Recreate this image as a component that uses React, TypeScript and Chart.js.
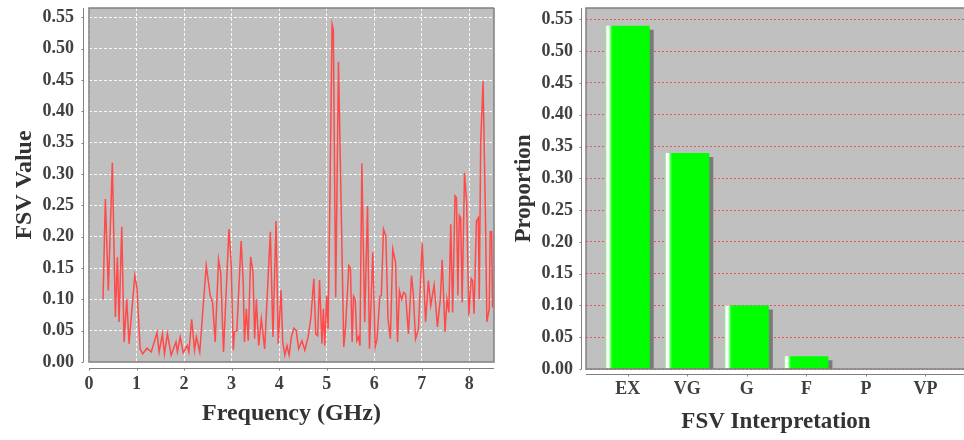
import React, { useEffect, useRef } from 'react';
import { Chart, registerables } from 'chart.js';

Chart.register(...registerables);

// ---------- Data ----------
const freqGHz = [
  0.295, 0.344, 0.407, 0.491, 0.555, 0.597, 0.632, 0.689, 0.738, 0.794, 0.843, 0.963, 1.01, 1.075, 1.13, 1.22, 1.31,
  1.43, 1.475, 1.545, 1.587, 1.65, 1.728, 1.83, 1.86, 1.92, 1.98, 2.065, 2.1, 2.16, 2.22, 2.26, 2.33, 2.466, 2.55,
  2.6, 2.655, 2.725, 2.77, 2.83, 2.944, 2.99, 3.035, 3.06, 3.11, 3.2, 3.245, 3.27, 3.31, 3.35, 3.4, 3.45, 3.485,
  3.52, 3.57, 3.625, 3.695, 3.815, 3.87, 3.934, 3.98, 4.04, 4.075, 4.12, 4.165, 4.21, 4.257, 4.31, 4.36, 4.41,
  4.48, 4.54, 4.61, 4.665, 4.73, 4.77, 4.81, 4.85, 4.9, 4.93, 4.96, 5.0, 5.03, 5.065, 5.114, 5.14, 5.19, 5.248,
  5.36, 5.4, 5.465, 5.5, 5.536, 5.565, 5.6, 5.635, 5.67, 5.7, 5.74, 5.8, 5.86, 5.9, 5.97, 6.02, 6.06, 6.12, 6.15,
  6.195, 6.245, 6.29, 6.34, 6.39, 6.45, 6.49, 6.53, 6.575, 6.62, 6.66, 6.72, 6.785, 6.82, 6.87, 6.93, 7.01, 7.08,
  7.14, 7.19, 7.26, 7.33, 7.39, 7.43, 7.49, 7.53, 7.57, 7.61, 7.65, 7.7, 7.73, 7.76, 7.79, 7.82, 7.85, 7.9, 7.945,
  7.99, 8.04, 8.07, 8.1, 8.15, 8.19, 8.21, 8.24, 8.29, 8.34, 8.37, 8.42, 8.44, 8.47, 8.49,
];
const fsvValues = [
  0.1, 0.26, 0.114, 0.318, 0.072, 0.167, 0.064, 0.216, 0.032, 0.1, 0.029, 0.138, 0.117, 0.021, 0.013, 0.022, 0.016,
  0.047, 0.016, 0.045, 0.013, 0.045, 0.011, 0.032, 0.016, 0.04, 0.015, 0.026, 0.016, 0.068, 0.019, 0.04, 0.016, 0.154, 0.106,
  0.095, 0.032, 0.164, 0.143, 0.016, 0.212, 0.159, 0.019, 0.048, 0.05, 0.193, 0.127, 0.032, 0.085, 0.034, 0.168, 0.143, 0.037,
  0.1, 0.026, 0.069, 0.021, 0.208, 0.04, 0.225, 0.029, 0.115, 0.032, 0.011, 0.026, 0.011, 0.04, 0.054, 0.05, 0.021,
  0.034, 0.019, 0.04, 0.069, 0.133, 0.045, 0.042, 0.131, 0.029, 0.085, 0.026, 0.106, 0.053, 0.244, 0.539, 0.53, 0.103, 0.479,
  0.024, 0.058, 0.154, 0.15, 0.032, 0.105, 0.1, 0.034, 0.04, 0.026, 0.317, 0.064, 0.249, 0.021, 0.175, 0.024, 0.037, 0.105, 0.106,
  0.212, 0.201, 0.069, 0.037, 0.18, 0.159, 0.032, 0.114, 0.1, 0.111, 0.108, 0.045, 0.138, 0.111, 0.037, 0.053, 0.19, 0.064,
  0.13, 0.09, 0.123, 0.056, 0.1, 0.163, 0.048, 0.1, 0.079, 0.22, 0.079, 0.265, 0.262, 0.106, 0.234, 0.23, 0.095, 0.302, 0.254,
  0.074, 0.133, 0.13, 0.077, 0.225, 0.23, 0.1, 0.35, 0.448, 0.233, 0.064, 0.085, 0.208, 0.208, 0.087,
];

const categories = ['EX', 'VG', 'G', 'F', 'P', 'VP'];
const proportions = [0.54, 0.34, 0.1, 0.02, 0, 0];

const FONT = "'Liberation Serif', 'Times New Roman', serif";
const tickFont = { family: FONT, size: 18, weight: 'bold' as const };
const leftTitleFont = { family: FONT, size: 24, weight: 'bold' as const };
const rightTitleFont = { family: FONT, size: 23, weight: 'bold' as const };
const TICK_COLOR = '#404040';
const TITLE_COLOR = '#333333';

function framePlugin(offset: number, drawRight: boolean) {
  return {
    id: 'frame',
    beforeDraw(chart: any) {
      const { ctx, chartArea: a } = chart;
      ctx.save();
      ctx.fillStyle = '#c0c0c0';
      ctx.fillRect(a.left, a.top, a.right - a.left, a.bottom - a.top);
      ctx.restore();
    },
    afterDraw(chart: any) {
      const { ctx, chartArea: a } = chart;
      const xs = chart.scales.x;
      const ys = chart.scales.y;
      ctx.save();
      ctx.strokeStyle = '#808080';
      ctx.lineWidth = 1.5;
      ctx.beginPath();
      ctx.moveTo(a.right, a.top);
      ctx.lineTo(a.left, a.top);
      ctx.lineTo(a.left, a.bottom);
      ctx.lineTo(a.right, a.bottom);
      if (drawRight) ctx.lineTo(a.right, a.top);
      ctx.stroke();
      const ax = Math.round(a.left - offset) + 0.5;
      const ay = Math.round(a.bottom + offset) + 0.5;
      ctx.lineWidth = 1;
      ctx.strokeStyle = '#808080';
      ctx.beginPath();
      ctx.moveTo(ax, a.top);
      ctx.lineTo(ax, a.bottom);
      ctx.moveTo(a.left, ay);
      ctx.lineTo(a.right, ay);
      ys.ticks.forEach((_t: any, i: number) => {
        const y = Math.round(ys.getPixelForTick(i)) + 0.5;
        ctx.moveTo(ax - 2, y);
        ctx.lineTo(ax, y);
      });
      xs.ticks.forEach((_t: any, i: number) => {
        const x = Math.round(xs.getPixelForTick(i)) + 0.5;
        ctx.moveTo(x, ay);
        ctx.lineTo(x, ay + 2);
      });
      ctx.stroke();
      ctx.restore();
    },
  };
}

const shadowPlugin = {
  id: 'barShadow',
  beforeDatasetDraw(chart: any) {
    const ctx = chart.ctx;
    ctx.save();
    ctx.shadowColor = '#7a7a7a';
    ctx.shadowOffsetX = 4;
    ctx.shadowOffsetY = 4;
    ctx.shadowBlur = 0;
  },
  afterDatasetDraw(chart: any) {
    chart.ctx.restore();
  },
};

const BAR_FRACTION = 0.74;

const noPadX = (h: number) => (s: any) => {
  s.height = h;
  s.paddingLeft = 0;
  s.paddingRight = 0;
  s.paddingTop = 0;
  s.paddingBottom = 0;
};
const noPadY = (w: number) => (s: any) => {
  s.width = w;
  s.paddingLeft = 0;
  s.paddingRight = 0;
  s.paddingTop = 0;
  s.paddingBottom = 0;
};

function LineChart() {
  const ref = useRef<HTMLCanvasElement>(null);
  useEffect(() => {
    if (!ref.current) return;
    const chart = new Chart(ref.current, {
      type: 'line',
      data: {
        datasets: [
          {
            data: freqGHz.map((f, i) => ({ x: f, y: fsvValues[i] })),
            borderColor: '#ff4a4a',
            borderWidth: 1.5,
            pointRadius: 0,
            tension: 0,
            fill: false,
          },
        ],
      },
      options: {
        responsive: false,
        animation: false,
        events: [],
        layout: { padding: { top: 8, right: 6, left: 0, bottom: 0 } },
        plugins: { legend: { display: false }, tooltip: { enabled: false } },
        scales: {
          x: {
            type: 'linear',
            min: 0,
            max: 8.52,
            offset: false,
            afterFit: noPadX(78),
            ticks: {
              stepSize: 1,
              includeBounds: false,
              maxRotation: 0,
              padding: 12,
              color: TICK_COLOR,
              font: tickFont,
              callback: (v: any) => String(v),
            },
            grid: { color: 'rgba(255,255,255,0.9)', lineWidth: 1, drawTicks: false },
            border: { display: false, dash: [3, 2] },
            title: {
              display: true,
              text: 'Frequency (GHz)',
              color: TITLE_COLOR,
              font: leftTitleFont,
              padding: { top: 0, bottom: 12 },
            },
          },
          y: {
            type: 'linear',
            min: 0,
            max: 0.565,
            afterFit: noPadY(89),
            ticks: {
              stepSize: 0.05,
              includeBounds: false,
              padding: 15,
              color: TICK_COLOR,
              font: tickFont,
              callback: (v: any) => Number(v).toFixed(2),
            },
            grid: { color: 'rgba(255,255,255,0.9)', lineWidth: 1, drawTicks: false },
            border: { display: false, dash: [3, 2] },
            title: {
              display: true,
              text: 'FSV Value',
              color: TITLE_COLOR,
              font: leftTitleFont,
              padding: { top: 10, bottom: 0 },
            },
          },
        },
      },
      plugins: [framePlugin(6, true)],
    } as any);
    return () => chart.destroy();
  }, []);
  return (
    <canvas
      ref={ref}
      width={500}
      height={440}
      style={{ position: 'absolute', left: 0, top: 0, width: 500, height: 440 }}
    />
  );
}

function BarChart() {
  const ref = useRef<HTMLCanvasElement>(null);
  useEffect(() => {
    if (!ref.current) return;
    const chart = new Chart(ref.current, {
      type: 'bar',
      data: {
        datasets: [
          {
            data: categories.map((c, i) => ({ x: i, y: proportions[i] })),
            backgroundColor: (c: any) => {
              const ch = c.chart;
              const xs = ch.scales && ch.scales.x;
              if (!xs || c.type !== 'data' || !ch.chartArea) return '#00ff00';
              const cx = xs.getPixelForValue(c.dataIndex);
              const w = (xs.getPixelForValue(1) - xs.getPixelForValue(0)) * BAR_FRACTION;
              const l = cx - w / 2;
              const g = ch.ctx.createLinearGradient(l, 0, l + w, 0);
              g.addColorStop(0, '#80ff80');
              g.addColorStop(0.03, '#ffffff');
              g.addColorStop(0.07, '#ffffff');
              g.addColorStop(0.12, '#50ff50');
              g.addColorStop(0.16, '#00ff00');
              g.addColorStop(1, '#00ff00');
              return g;
            },
            borderWidth: 0,
            barPercentage: BAR_FRACTION,
            categoryPercentage: 1,
            clip: 0,
          },
        ],
      },
      options: {
        responsive: false,
        animation: false,
        events: [],
        layout: { padding: { top: 8, right: 2, left: 0, bottom: 0 } },
        plugins: { legend: { display: false }, tooltip: { enabled: false } },
        scales: {
          x: {
            type: 'linear',
            min: -0.7,
            max: 5.68,
            offset: false,
            afterBuildTicks: (s: any) => {
              s.ticks = categories.map((_c, i) => ({ value: i }));
            },
            afterFit: noPadX(71),
            ticks: {
              autoSkip: false,
              maxRotation: 0,
              padding: 10,
              color: TICK_COLOR,
              font: tickFont,
              callback: (v: any) => categories[Math.round(Number(v))] ?? '',
            },
            grid: { display: false, drawTicks: false, offset: false },
            border: { display: false },
            title: {
              display: true,
              text: 'FSV Interpretation',
              color: TITLE_COLOR,
              font: rightTitleFont,
              padding: { top: 0, bottom: 4 },
            },
          },
          y: {
            type: 'linear',
            min: 0,
            max: 0.568,
            afterFit: noPadY(86),
            ticks: {
              stepSize: 0.05,
              includeBounds: false,
              padding: 13,
              color: TICK_COLOR,
              font: tickFont,
              callback: (v: any) => Number(v).toFixed(2),
            },
            grid: { color: '#e05a5a', lineWidth: 1, drawTicks: false },
            border: { display: false, dash: [2, 2] },
            title: {
              display: true,
              text: 'Proportion',
              color: TITLE_COLOR,
              font: rightTitleFont,
              padding: { top: 10, bottom: 0 },
            },
          },
        },
      },
      plugins: [framePlugin(5, false), shadowPlugin],
    } as any);
    return () => chart.destroy();
  }, []);
  return (
    <canvas
      ref={ref}
      width={468}
      height={440}
      style={{ position: 'absolute', left: 500, top: 0, width: 468, height: 440 }}
    />
  );
}

export default function App() {
  return (
    <div
      style={{
        position: 'absolute',
        left: 0,
        top: 0,
        width: 964,
        height: 440,
        overflow: 'hidden',
        background: '#ffffff',
      }}
    >
      <LineChart />
      <BarChart />
    </div>
  );
}
